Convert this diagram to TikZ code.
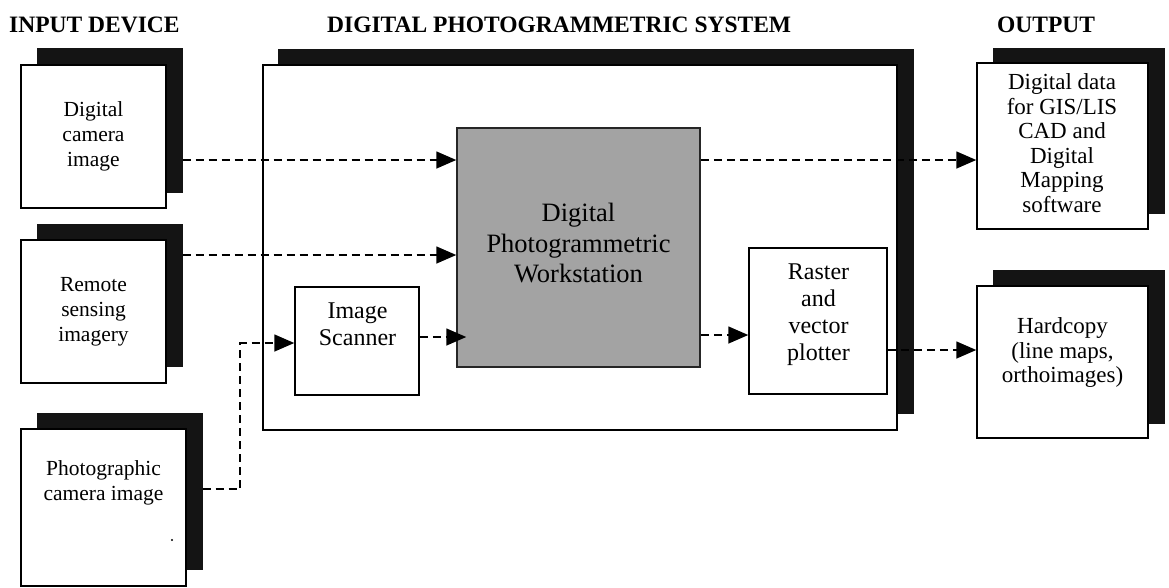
\documentclass[tikz,border=0pt]{standalone}
\usepackage{fontspec}
\setmainfont{Liberation Serif}
\usetikzlibrary{arrows.meta,calc}
\definecolor{shadowcol}{gray}{0.08}
\definecolor{wsfill}{gray}{0.64}
\begin{document}
\begin{tikzpicture}[x=1pt,y=-1pt,
  shadowbox/.style={draw=shadowcol,fill=shadowcol,line width=1pt,inner sep=0pt},
  frontbox/.style={draw=black,fill=white,line width=1.5pt,inner sep=0pt},
  wsbox/.style={draw=black!85,fill=wsfill,line width=1.5pt,inner sep=0pt},
  heading/.style={font=\fontsize{23.5}{26}\selectfont\bfseries,inner sep=0pt,anchor=base west},
  intext/.style={align=center,inner sep=0pt,font=\fontsize{21.5}{25}\selectfont},
  proctext/.style={align=center,inner sep=0pt,font=\fontsize{24}{27}\selectfont},
  outtext/.style={align=center,inner sep=0pt,font=\fontsize{23}{24.5}\selectfont},
  wstext/.style={align=center,inner sep=0pt,font=\fontsize{26.5}{31}\selectfont},
  flow/.style={line width=1.6pt,dash pattern=on 8pt off 5pt,-{Triangle[length=20pt,width=17pt]}},
  flowline/.style={line width=1.6pt,dash pattern=on 8pt off 5pt}]
\useasboundingbox (0,0) rectangle (1169,587);

% headings
\node[heading] (hin)  at (9,32)   {INPUT DEVICE};
\node[heading] (hsys) at (327,32) {DIGITAL PHOTOGRAMMETRIC SYSTEM};
\node[heading] (hout) at (997,32) {OUTPUT};

% input devices (shadow first, then the white card)
\node[shadowbox,minimum width=145,minimum height=144] (in1s) at (109.5,120) {};
\node[frontbox,minimum width=145,minimum height=143] (in1) at (93.5,136.5) {};
\node[intext] (in1t) at (93.5,136.5) {Digital\\camera\\image};

\node[shadowbox,minimum width=145,minimum height=142] (in2s) at (109.5,295) {};
\node[frontbox,minimum width=145,minimum height=143] (in2) at (93.5,311.5) {};
\node[intext] (in2t) at (93.5,311.5) {Remote\\sensing\\imagery};

\node[shadowbox,minimum width=165,minimum height=156] (in3s) at (119.5,491) {};
\node[frontbox,minimum width=165,minimum height=157] (in3) at (103.5,507.5) {};
\node[intext] (in3t) at (103.5,482.5) {Photographic\\camera image};
\fill (172,540) circle (1.1);

% photogrammetric system frame
\node[shadowbox,minimum width=635,minimum height=364] (syss) at (595.5,231) {};
\node[frontbox,minimum width=634,minimum height=365] (sys) at (580,247.5) {};

\node[frontbox,minimum width=124,minimum height=108] (scan) at (357,341) {};
\node[proctext] (scant) at (357.5,324) {Image\\Scanner};

\node[wsbox,minimum width=243,minimum height=239] (dpw) at (578.5,247.5) {};
\node[wstext] (dpwt) at (578.5,243) {Digital\\Photogrammetric\\Workstation};

\node[frontbox,minimum width=138,minimum height=146] (rast) at (818,321) {};
\node[proctext] (rastt) at (818.5,314.5) {Raster\\and\\vector\\plotter};

% outputs
\node[shadowbox,minimum width=171,minimum height=165] (out1s) at (1078.5,130.5) {};
\node[frontbox,minimum width=171,minimum height=166] (out1) at (1062.5,146) {};
\node[outtext] (out1t) at (1062,143) {Digital data\\for GIS/LIS\\CAD and\\Digital\\Mapping\\software};

\node[shadowbox,minimum width=171,minimum height=153] (out2s) at (1078.5,346.5) {};
\node[frontbox,minimum width=171,minimum height=152] (out2) at (1062.5,362) {};
\node[outtext] (out2t) at (1062.5,352.5) {Hardcopy\\(line maps,\\orthoimages)};

% connector levels
\coordinate (lvA) at (0,160);
\coordinate (lvB) at (0,255);
\coordinate (lvC) at (0,489);
\coordinate (lvD) at (0,343);
\coordinate (lvE) at (0,337);
\coordinate (lvF) at (0,335);
\coordinate (lvG) at (0,350);
\coordinate (bend) at (240,0);

% data flow
\draw[flow] (in1s.east |- lvA) -- (dpw.west |- lvA);
\draw[flow] (in2s.east |- lvB) -- (dpw.west |- lvB);
\draw[flow] (in3s.east |- lvC) -- (bend |- lvC) -- (bend |- lvD) -- (scan.west |- lvD);
\draw[flow] (scan.east |- lvE) -- ($(dpw.west |- lvE)+(10,0)$);
\draw[flow] (dpw.east |- lvF) -- (rast.west |- lvF);
\draw[flow] (dpw.east |- lvA) -- (out1.west |- lvA);
\draw[flow] (rast.east |- lvG) -- (out2.west |- lvG);
\end{tikzpicture}
\end{document}
